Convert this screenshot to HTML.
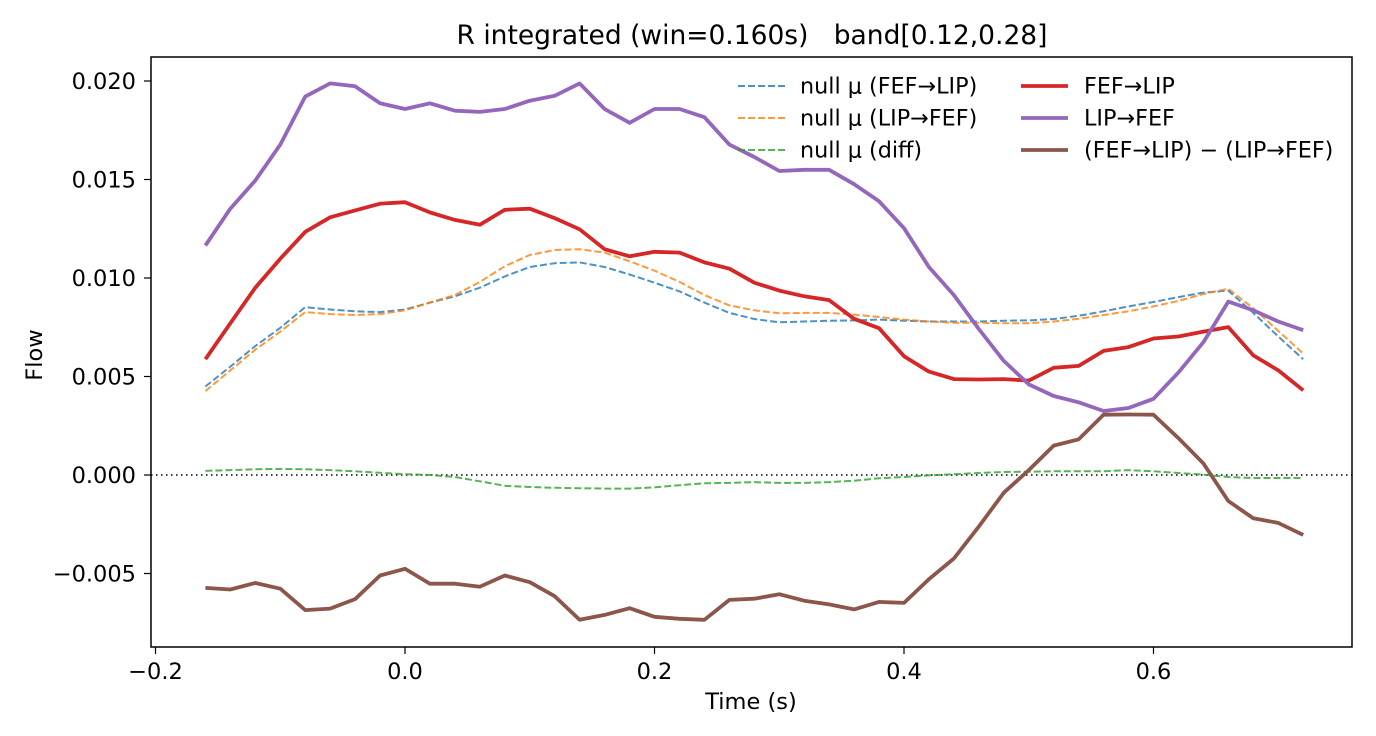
<!DOCTYPE html>
<html><head><meta charset="utf-8"><style>
html,body{margin:0;padding:0;background:#fff;}
svg{display:block;font-family:"DejaVu Sans","Liberation Sans",sans-serif;}
</style></head><body>
<svg id="chart" width="1376" height="736" viewBox="0 0 1376 736" xmlns="http://www.w3.org/2000/svg">
<rect width="1376" height="736" fill="#fff"/>
<text x="752" y="44" font-size="26.5" text-anchor="middle" xml:space="preserve">R integrated (win=0.160s)   band[0.12,0.28]</text>
<g id="grid"></g>
<g id="series"></g>
<rect x="151" y="57" width="1201" height="590" fill="none" stroke="#000" stroke-width="1.5"/>
<g id="axes"></g>
<text x="751" y="709" font-size="22.5" text-anchor="middle">Time (s)</text>
<text transform="translate(42,355) rotate(-90)" font-size="22.5" text-anchor="middle">Flow</text>
<g id="legend"></g>
</svg>
<script>
const xTicks=[-0.2,0.0,0.2,0.4,0.6];
const xTickLabels=["−0.2","0.0","0.2","0.4","0.6"];
const yTicks=[-0.005,0,0.005,0.010,0.015,0.020];
const yTickLabels=["−0.005","0.000","0.005","0.010","0.015","0.020"];
const tStart=-0.16, tStep=0.02;
const nullFefLip=[.00449,.00550,.00655,.00747,.00852,.00840,.00831,.00827,.00840,.00875,.00907,.00951,.01008,.01056,.01075,.01079,.01056,.01018,.00976,.00932,.00875,.00823,.00792,.00775,.00779,.00783,.00785,.00789,.00783,.00779,.00779,.00779,.00783,.00785,.00792,.00808,.00831,.00856,.00878,.00903,.00926,.00936,.00823,.00703,.00588];
const nullLipFef=[.00426,.00531,.00636,.00728,.00827,.00817,.00812,.00817,.00836,.00875,.00913,.00980,.01060,.01117,.01142,.01146,.01129,.01085,.01037,.00980,.00913,.00861,.00836,.00821,.00823,.00823,.00814,.00802,.00789,.00779,.00773,.00773,.00770,.00770,.00779,.00793,.00812,.00831,.00856,.00884,.00919,.00945,.00846,.00731,.00617];
const nullDiff=[.00021,.00025,.00029,.00031,.00029,.00025,.00019,.00011,.00004,0,-.00010,-.00032,-.00055,-.00061,-.00065,-.00067,-.00069,-.00069,-.00063,-.00052,-.00042,-.00040,-.00036,-.00040,-.00040,-.00036,-.00029,-.00017,-.00010,-.00002,.00004,.00010,.00015,.00017,.00019,.00019,.00019,.00025,.00019,.00010,.00002,-.00010,-.00015,-.00015,-.00015];
const fefLip=[.00588,.00770,.00951,.01098,.01234,.01308,.01343,.01377,.01385,.01333,.01295,.01270,.01346,.01352,.01304,.01247,.01146,.01110,.01133,.01129,.01079,.01047,.00976,.00936,.00907,.00888,.00793,.00745,.00603,.00525,.00487,.00485,.00487,.00479,.00544,.00554,.00630,.00649,.00693,.00703,.00728,.00751,.00607,.00531,.00430];
const lipFef=[.01165,.01352,.01495,.01677,.01921,.01988,.01973,.01887,.01858,.01887,.01849,.01843,.01858,.01900,.01925,.01988,.01858,.01788,.01858,.01858,.01816,.01677,.01614,.01543,.01549,.01549,.01476,.01390,.01253,.01056,.00913,.00741,.00579,.00460,.00401,.00369,.00325,.00340,.00387,.00521,.00674,.00880,.00836,.00779,.00735];
const diffSeries=[-.00573,-.00581,-.00548,-.00577,-.00686,-.00678,-.00630,-.00510,-.00476,-.00552,-.00552,-.00567,-.00510,-.00544,-.00615,-.00735,-.00710,-.00676,-.00720,-.00730,-.00735,-.00634,-.00628,-.00605,-.00638,-.00657,-.00682,-.00644,-.00649,-.00529,-.00424,-.00262,-.00090,.00025,.00149,.00181,.00306,.00307,.00306,.00187,.00059,-.00132,-.00220,-.00243,-.00304];

const NS='http://www.w3.org/2000/svg';
function X(t){return 405+t*1247.5;}
function Y(v){return 475-v*19700;}
function mk(tag,attrs,parent){const e=document.createElementNS(NS,tag);for(const k in attrs)e.setAttribute(k,attrs[k]);parent.appendChild(e);return e;}
const axes=document.getElementById('axes'),series=document.getElementById('series'),grid=document.getElementById('grid'),legend=document.getElementById('legend');

xTicks.forEach((t,i)=>{
  const l=mk('line',{x1:X(t),x2:X(t),y1:647,y2:654,stroke:'#000','stroke-width':1.2},axes);
  
  
  const tx=mk('text',{x:X(t),y:679,'font-size':22.5,'text-anchor':'middle'},axes);tx.textContent=xTickLabels[i];
  
  
});
yTicks.forEach((v,i)=>{
  const l=mk('line',{x1:144,x2:151,y1:Y(v),y2:Y(v),stroke:'#000','stroke-width':1.2},axes);
  
  
  const tx=mk('text',{x:136,y:Y(v)+8,'font-size':22.5,'text-anchor':'end'},axes);tx.textContent=yTickLabels[i];
  
  
});
const zl=mk('line',{x1:151,x2:1352,y1:Y(0),y2:Y(0),stroke:'#000','stroke-width':1.5,'stroke-dasharray':'1.5,3.5'},grid);



const defs=[
 {d:nullFefLip,c:'rgba(31,119,180,0.8)',w:2,dash:'7,3',name:'null-fef-lip-line',label:'null μ (FEF→LIP)'},
 {d:nullLipFef,c:'rgba(255,127,14,0.8)',w:2,dash:'7,3',name:'null-lip-fef-line',label:'null μ (LIP→FEF)'},
 {d:nullDiff,c:'rgba(44,160,44,0.8)',w:2,dash:'7,3',name:'null-diff-line',label:'null μ (diff)'},
 {d:fefLip,c:'#d62728',w:3.8,dash:null,name:'fef-lip-line',label:'FEF→LIP'},
 {d:lipFef,c:'#9467bd',w:3.8,dash:null,name:'lip-fef-line',label:'LIP→FEF'},
 {d:diffSeries,c:'#8c564b',w:3.8,dash:null,name:'diff-line',label:'(FEF→LIP) − (LIP→FEF)'}
];
defs.forEach(s=>{
  const pts=s.d.map((v,i)=>X(tStart+i*tStep).toFixed(1)+','+Y(v).toFixed(1)).join(' ');
  const a={points:pts,fill:'none',stroke:s.c,'stroke-width':s.w,'stroke-linejoin':'round'};
  if(s.dash)a['stroke-dasharray']=s.dash;
  const p=mk('polyline',a,series);
  
  
});
defs.forEach((s,i)=>{
  const col=i<3?0:1,row=i%3;
  const lx=col?1021:738, tx=col?1084:800, y=86+row*32;
  const g=mk('g',{},legend);
  
  
  const a={x1:lx,x2:lx+47,y1:y,y2:y,stroke:s.c,'stroke-width':s.w};
  if(s.dash)a['stroke-dasharray']=s.dash;
  mk('line',a,g);
  const t=mk('text',{x:tx,y:y+7.5,'font-size':22.3},g);t.textContent=s.label;
});
</script>
</body></html>
